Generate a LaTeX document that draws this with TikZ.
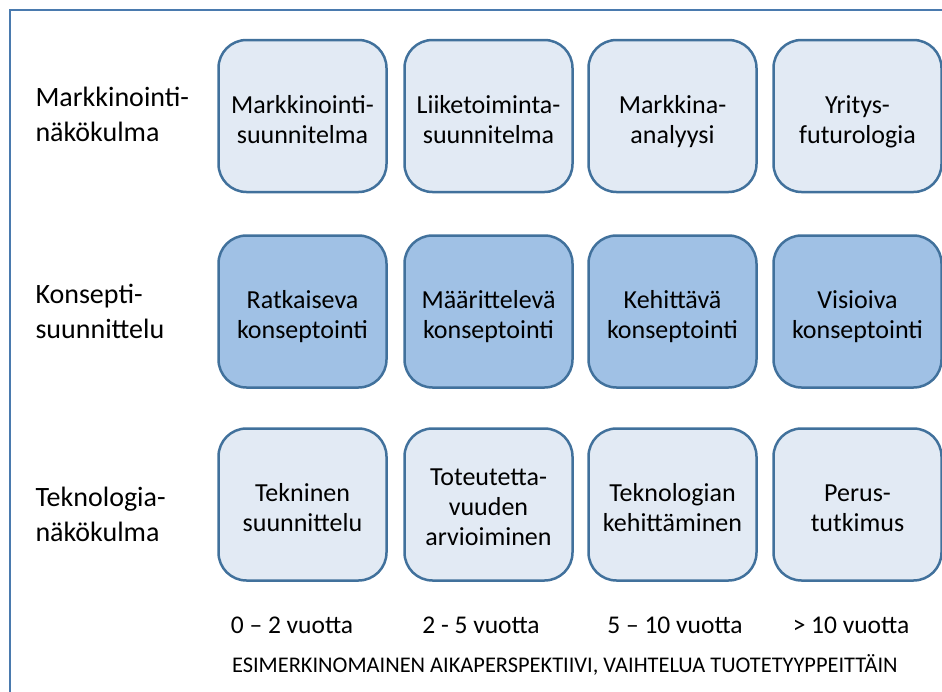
\documentclass[tikz,border=0pt]{standalone}
\usepackage{fontspec}
\setmainfont{Carlito}
\definecolor{frameblue}{HTML}{4A7AAE}
\definecolor{boxline}{HTML}{41719C}
\definecolor{lightfill}{HTML}{E2EAF4}
\definecolor{darkfill}{HTML}{A0C1E5}
\begin{document}
\begin{tikzpicture}[x=1pt,y=-1pt,
  card/.style={draw=boxline,line width=2.5pt,rounded corners=28pt,
    minimum width=168pt,minimum height=152pt,align=center,
    font=\fontsize{26}{30}\selectfont,text height=54pt,text depth=0pt},
  lightcard/.style={card,fill=lightfill},
  darkcard/.style={card,fill=darkfill},
  rowlabel/.style={anchor=west,align=left,font=\fontsize{28}{35}\selectfont,
    text height=56pt,text depth=0pt},
  years/.style={anchor=base,font=\fontsize{25.5}{30}\selectfont}]
\useasboundingbox (0,0) rectangle (942,691);
\clip (0,0) rectangle (942,691);
\draw[frameblue,line width=2.5pt] (10,700) -- (10,10) -- (960,10);
% rivien otsikot
\node[rowlabel] (mnako) at (32,113.7) {Markkinointi-\\näkökulma};
\node[rowlabel] (ksuun) at (32,310) {Konsepti-\\suunnittelu};
\node[rowlabel] (tnako) at (32,513.7) {Teknologia-\\näkökulma};
% markkinointi
\node[lightcard] (msuun) at (302.5,116) {Markkinointi-\\suunnitelma};
\node[lightcard] (lsuun) at (488.5,116) {Liiketoiminta-\\suunnitelma};
\node[lightcard] (manal) at (672.5,116) {Markkina-\\analyysi};
\node[lightcard] (yfut) at (857.5,116) {Yritys-\\futurologia};
% konseptointi
\node[darkcard] (rkons) at (302.5,311.5) {Ratkaiseva\\konseptointi};
\node[darkcard] (mkons) at (488.5,311.5) {Määrittelevä\\konseptointi};
\node[darkcard] (kkons) at (672.5,311.5) {Kehittävä\\konseptointi};
\node[darkcard] (vkons) at (857.5,311.5) {Visioiva\\konseptointi};
% teknologia
\node[lightcard] (tsuun) at (302.5,504.5) {Tekninen\\suunnittelu};
\node[lightcard,text height=82pt] (tarv) at (488.5,504.5) {Toteutetta-\\vuuden\\arvioiminen};
\node[lightcard] (tkeh) at (672.5,504.5) {Teknologian\\kehittäminen};
\node[lightcard] (ptut) at (857.5,504.5) {Perus-\\tutkimus};
% aikajana
\node[years] (v02) at (292,633) {0 – 2 vuotta};
\node[years] (v25) at (481,633) {2 - 5 vuotta};
\node[years] (v510) at (675,633) {5 – 10 vuotta};
\node[years] (v10) at (851,633) {> 10 vuotta};
\node[font=\fontsize{22.4}{26}\selectfont,anchor=base west] (aika) at (228.5,672)
  {ESIMERKINOMAINEN AIKAPERSPEKTIIVI, VAIHTELUA TUOTETYYPPEITTÄIN};
\end{tikzpicture}
\end{document}
